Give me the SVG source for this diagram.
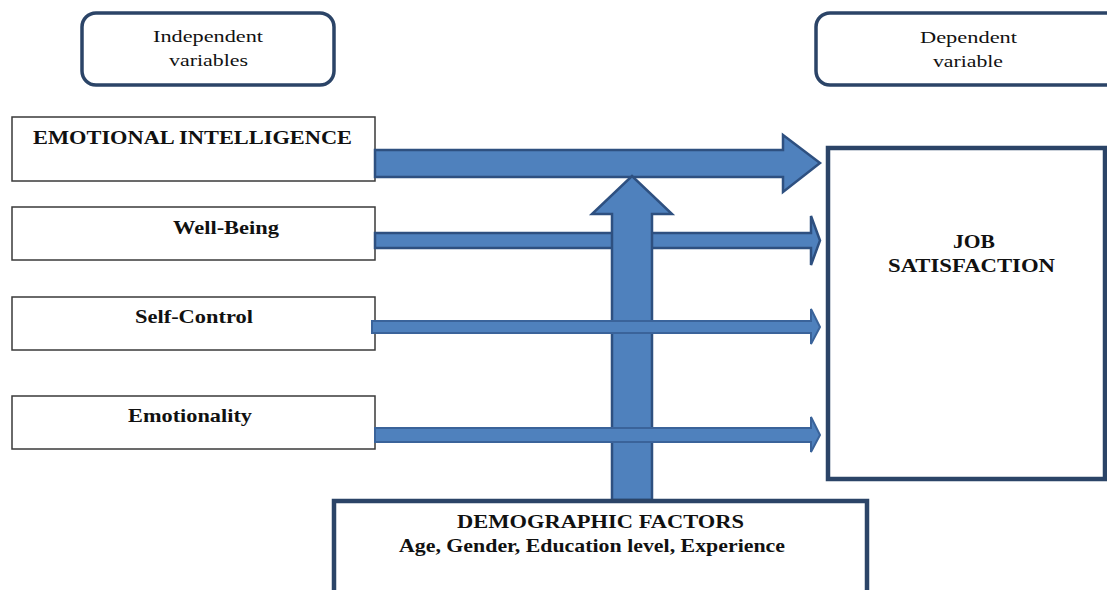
<svg xmlns="http://www.w3.org/2000/svg" width="1107" height="590" viewBox="0 0 1107 590">
<style>
.hdr{fill:#fff;stroke:#2b4467;stroke-width:3.5}
.var{fill:#fff;stroke:#3a3a3a;stroke-width:1.5}
.big{fill:#fff;stroke:#2b4467;stroke-width:4.5}
.arr{fill:#4f81bd;stroke:#2e5080;stroke-width:2.5;stroke-linejoin:miter}
.arr2{fill:#4f81bd;stroke:#3a639a;stroke-width:2}
.b{font-family:"Liberation Serif","Times New Roman",serif;font-weight:bold;font-size:19px;fill:#111}
.r{font-family:"Liberation Serif","Times New Roman",serif;font-size:17px;fill:#111}
</style>
<rect width="1107" height="590" fill="#fff"/>
<g id="independent">
<rect class="hdr" x="82" y="13" width="252" height="72" rx="14"/>
<text class="r" x="153" y="42" textLength="110" lengthAdjust="spacingAndGlyphs">Independent</text>
<text class="r" x="169" y="66" textLength="79" lengthAdjust="spacingAndGlyphs">variables</text>
</g>
<g id="dependent">
<rect class="hdr" x="816" y="13" width="310" height="72" rx="14"/>
<text class="r" x="920" y="43" textLength="97" lengthAdjust="spacingAndGlyphs">Dependent</text>
<text class="r" x="933" y="67" textLength="70" lengthAdjust="spacingAndGlyphs">variable</text>
</g>
<g id="emotional-intelligence">
<rect class="var" x="12" y="117" width="363" height="64"/>
<text class="b" x="33" y="144" textLength="319" lengthAdjust="spacingAndGlyphs">EMOTIONAL INTELLIGENCE</text>
</g>
<g id="well-being">
<rect class="var" x="12" y="207" width="363" height="53"/>
<text class="b" x="173" y="234" textLength="106" lengthAdjust="spacingAndGlyphs">Well-Being</text>
</g>
<g id="self-control">
<rect class="var" x="12" y="297" width="363" height="53"/>
<text class="b" x="135" y="323" textLength="118" lengthAdjust="spacingAndGlyphs">Self-Control</text>
</g>
<g id="emotionality">
<rect class="var" x="12" y="396" width="363" height="53"/>
<text class="b" x="128" y="422" textLength="124" lengthAdjust="spacingAndGlyphs">Emotionality</text>
</g>
<g id="job-satisfaction">
<rect class="big" x="828" y="148" width="277" height="331"/>
<text class="b" x="953" y="248" textLength="42" lengthAdjust="spacingAndGlyphs">JOB</text>
<text class="b" x="888" y="272" textLength="167" lengthAdjust="spacingAndGlyphs">SATISFACTION</text>
</g>
<g id="connectors">
<polygon class="arr" points="375,150 783,150 783,135 820,163 783,192 783,177 375,177"/>
<polygon class="arr" stroke-width="3" points="375,233 811,233 811,216 820,240.5 811,265 811,248 375,248"/>
<polygon class="arr" points="612,500 612,214 592,214 632,176 672,214 652,214 652,500"/>
<polygon class="arr2" points="372,321 811,321 811,309 820,327 811,344 811,333 372,333"/>
<polygon class="arr2" points="375,428 811,428 811,417 820,435 811,452 811,442 375,442"/>
</g>
<g id="demographic-factors">
<rect class="big" x="334" y="501" width="533" height="110"/>
<text class="b" x="457" y="528" textLength="287" lengthAdjust="spacingAndGlyphs">DEMOGRAPHIC FACTORS</text>
<text class="b" x="399" y="552" textLength="386" lengthAdjust="spacingAndGlyphs">Age, Gender, Education level, Experience</text>
</g>
</svg>
